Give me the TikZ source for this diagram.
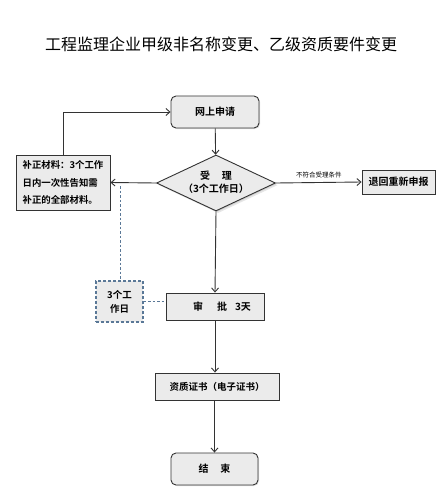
\documentclass[tikz,border=0pt]{standalone}
\usepackage{fontspec}
\newfontfamily\cjk{Noto Sans CJK SC}
\newfontfamily\cjkb{Noto Sans CJK SC Bold}
\usetikzlibrary{arrows.meta,shapes.geometric,shadows}
\definecolor{boxfill}{HTML}{EBEBEB}
\definecolor{dashblue}{HTML}{5A7897}
\begin{document}
\begin{tikzpicture}[x=1pt,y=-1pt,
  base/.style={draw=black!80,line width=0.9pt,fill=boxfill,inner sep=0pt,font=\cjkb\fontsize{10}{12}\selectfont,
    drop shadow={shadow xshift=1pt,shadow yshift=-1pt,opacity=0.25}},
  rbox/.style={base,rounded corners=5pt},
  sbox/.style={base},
  flow/.style={draw=black!80,line width=0.9pt,-{Straight Barb[length=4pt,width=7pt]}},
  dline/.style={draw=dashblue,line width=0.9pt,dash pattern=on 2.5pt off 2pt}]
\useasboundingbox (0,0) rectangle (442,500);
\node[font=\cjk\fontsize{16}{18}\selectfont] (title) at (221,44) {工程监理企业甲级非名称变更、乙级资质要件变更};
\node[rbox,minimum width=88pt,minimum height=32pt] (apply) at (215,112) {网上申请};
\node[base,diamond,aspect=2.12,minimum width=119pt,minimum height=56pt,drop shadow={opacity=0.2}] (accept) at (216,183) {};
\node[align=center,font=\cjkb\fontsize{10}{13}\selectfont] (acctxt) at (216,182) {受\hspace{1.2em}理\\（3个工作日）};
\node[sbox,minimum width=94pt,minimum height=55pt,align=left,font=\cjkb\fontsize{9.4}{17.5}\selectfont] (fix) at (63,182.5) {补正材料：3个工作\\日内一次性告知需\\补正的全部材料。};
\node[sbox,minimum width=73pt,minimum height=24pt] (back) at (398.5,182) {退回重新申报};
\node[sbox,minimum width=98pt,minimum height=27pt] (approve) at (215,306.5) {\hspace{14pt}审\hspace{1.4em}批\hspace{0.8em}3天};
\node[draw=dashblue,line width=1.2pt,dash pattern=on 3pt off 2pt,fill=boxfill,minimum width=47pt,minimum height=41pt,inner sep=0pt,align=center,font=\cjkb\fontsize{9.5}{14}\selectfont] (days) at (119.5,301.5) {3个工\\作日};
\node[sbox,minimum width=124pt,minimum height=27pt,font=\cjkb\fontsize{9.5}{12}\selectfont] (cert) at (217,386.5) {资质证书（电子证书）};
\node[rbox,minimum width=87pt,minimum height=32pt] (end) at (214.5,469) {结\hspace{1.2em}束};
\coordinate (dtop) at (120,186);
\draw[flow] (apply) -- (accept);
\draw[flow] (accept.west) -- (fix.east);
\draw[flow] (accept.east) -- node[above=1pt,font=\cjk\fontsize{6.5}{8}\selectfont] (lbl) {不符合受理条件} (back.west);
\draw[flow] (fix.north) |- (apply.west);
\draw[flow] (accept.south) -- (approve.north);
\draw[flow] (approve.south) -- (cert.north -| approve.south);
\draw[flow] (cert.south -| end.north) -- (end.north);
\draw[dline] (dtop) -- (days.north -| dtop);
\draw[dline] (days.east) -- (approve.west |- days.east);
\end{tikzpicture}
\end{document}
